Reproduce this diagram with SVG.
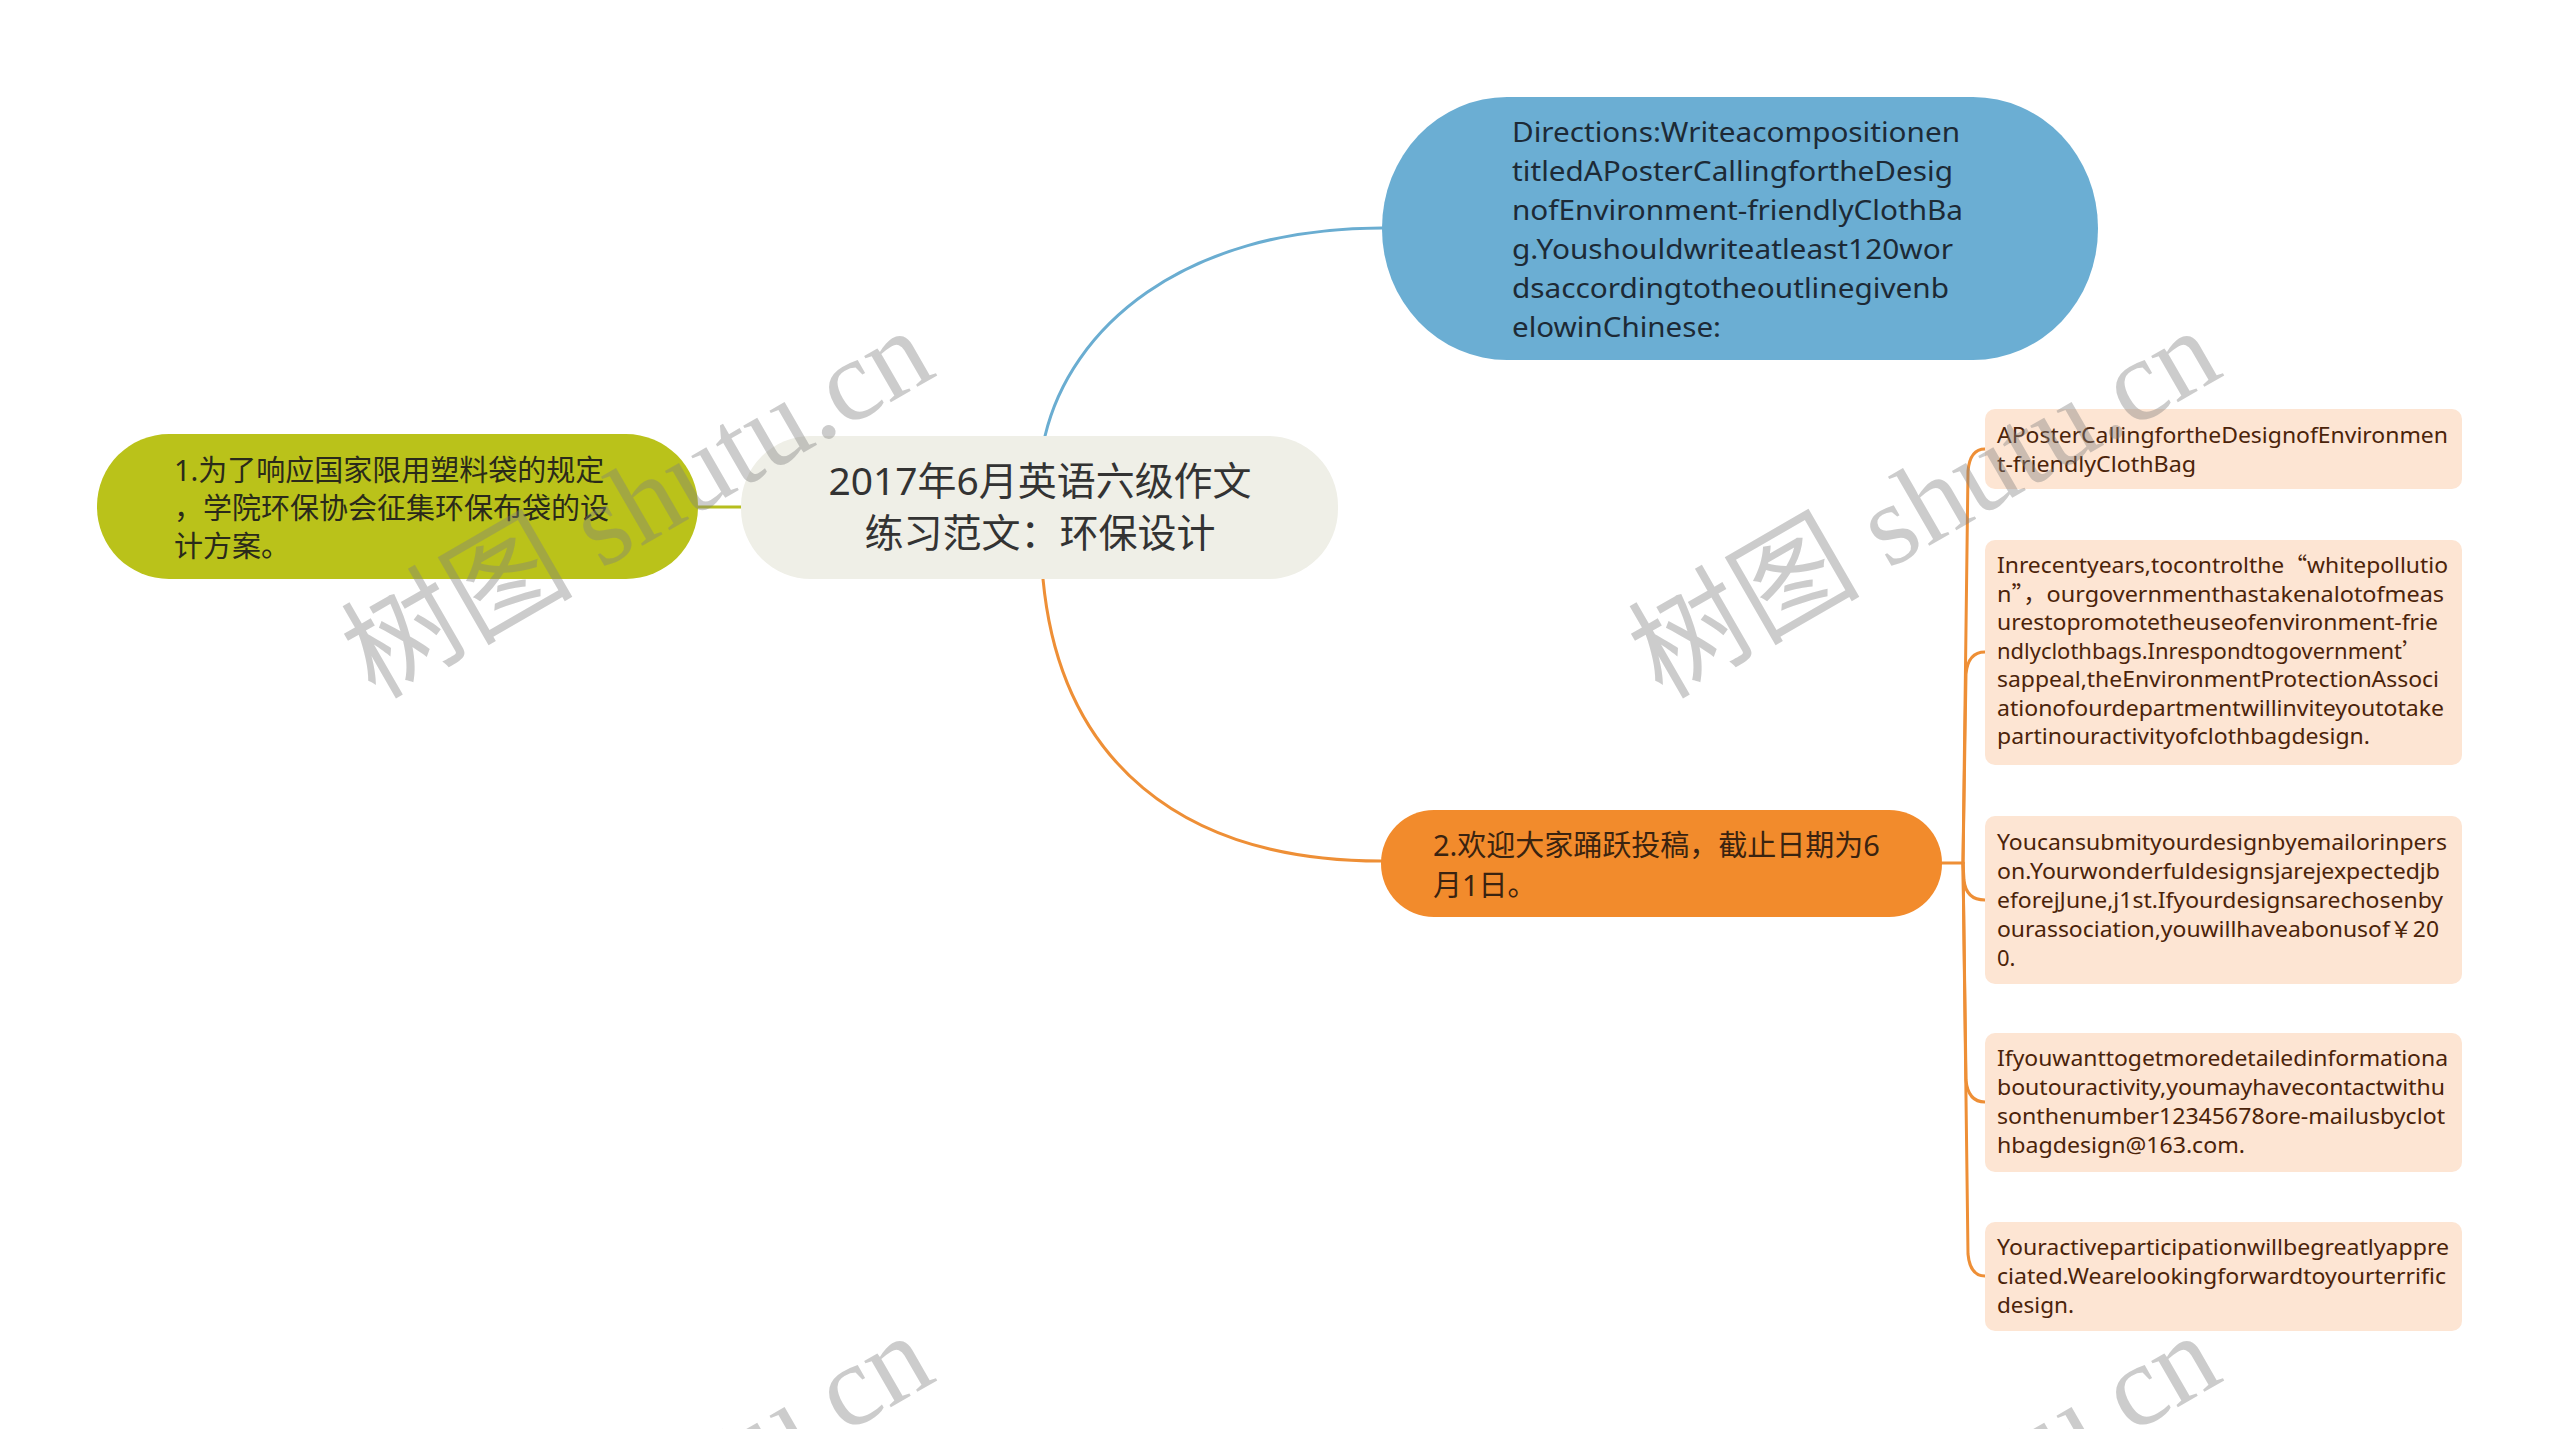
<svg xmlns="http://www.w3.org/2000/svg" width="2560" height="1429" viewBox="0 0 2560 1429">
<style>
.lat{font-family:"Noto Sans","Noto Sans CJK SC",sans-serif}
.cjk{font-family:"Noto Sans","Noto Sans CJK SC",sans-serif}
.fw{font-family:"Noto Sans CJK SC",sans-serif}
.blue-t{font-size:28px;fill:#1d2a36}
.sub-t{font-size:22px;fill:#4b2309}
.sub{fill:#fde5d3}
.wm{font-family:"Liberation Serif","Noto Sans CJK SC",serif;font-size:116px;fill:#808080;fill-opacity:0.4}
.ln{fill:none;stroke-width:3;stroke-linecap:round}
</style>
<rect width="2560" height="1429" fill="#ffffff"/>
<g id="connectors">
<path class="ln" stroke="#6aadd1" d="M1045,436 C1070,330 1180,228 1382,228"/>
<path class="ln" stroke="#ee8f36" d="M1043,579 C1060,760 1180,861 1381,861"/>
<path class="ln" stroke="#b6be1e" d="M698,507 L741,507"/>
<path class="ln" stroke="#ee8f36" d="M1942,863 L1963,863"/>
<path class="ln" stroke="#ee8f36" d="M1963,863 L1968,471 Q1970,449 1985,449"/>
<path class="ln" stroke="#ee8f36" d="M1963,863 L1966,674 Q1968,652 1985,652"/>
<path class="ln" stroke="#ee8f36" d="M1963,863 L1964,880 Q1966,900 1985,900"/>
<path class="ln" stroke="#ee8f36" d="M1963,863 L1966,1080 Q1968,1102 1985,1102"/>
<path class="ln" stroke="#ee8f36" d="M1963,863 L1968,1254 Q1970,1276 1985,1276"/>
</g>
<g id="node-center">
<rect x="741" y="436" width="597" height="143" rx="70" fill="#efefe7"/>
<text class="cjk" font-size="39" fill="#333333" text-anchor="middle"><tspan x="1040" y="495" textLength="423" lengthAdjust="spacingAndGlyphs">2017年6月英语六级作文</tspan><tspan x="1040" y="547">练习范文：环保设计</tspan></text>
</g>
<g id="node-1">
<rect x="97" y="434" width="601" height="145" rx="72" fill="#bac21a"/>
<text class="cjk" font-size="29" fill="#2a2a1a"><tspan x="174" y="481">1.为了响应国家限用塑料袋的规定</tspan><tspan x="174" y="519">，学院环保协会征集环保布袋的设</tspan><tspan x="174" y="557">计方案。</tspan></text>
</g>
<g id="node-directions">
<rect x="1382" y="97" width="716" height="263" rx="125" ry="131" fill="#6baed3"/>
<text class="lat blue-t">
<tspan x="1512" y="142" textLength="448" lengthAdjust="spacingAndGlyphs">Directions:Writeacompositionen</tspan>
<tspan x="1512" y="181" textLength="441" lengthAdjust="spacingAndGlyphs">titledAPosterCallingfortheDesig</tspan>
<tspan x="1512" y="220" textLength="451" lengthAdjust="spacingAndGlyphs">nofEnvironment-friendlyClothBa</tspan>
<tspan x="1512" y="259" textLength="441" lengthAdjust="spacingAndGlyphs">g.Youshouldwriteatleast120wor</tspan>
<tspan x="1512" y="298" textLength="437" lengthAdjust="spacingAndGlyphs">dsaccordingtotheoutlinegivenb</tspan>
<tspan x="1512" y="337" textLength="209" lengthAdjust="spacingAndGlyphs">elowinChinese:</tspan>
</text>
</g>
<g id="node-2">
<rect x="1381" y="810" width="561" height="107" rx="53" fill="#f28b2c"/>
<text class="cjk" font-size="29" fill="#3a2310"><tspan x="1433" y="856">2.欢迎大家踊跃投稿，截止日期为6</tspan><tspan x="1433" y="896">月1日。</tspan></text>
</g>
<g id="node-2-1">
<rect class="sub" x="1985" y="409" width="477" height="80" rx="10"/>
<text class="lat sub-t">
<tspan x="1997" y="443" textLength="451" lengthAdjust="spacingAndGlyphs">APosterCallingfortheDesignofEnvironmen</tspan>
<tspan x="1997" y="472" textLength="199" lengthAdjust="spacingAndGlyphs">t-friendlyClothBag</tspan>
</text>
</g>
<g id="node-2-2">
<rect class="sub" x="1985" y="540" width="477" height="225" rx="10"/>
<text class="lat sub-t">
<tspan x="1997" y="573" textLength="451" lengthAdjust="spacingAndGlyphs">Inrecentyears,tocontrolthe<tspan class="fw">“</tspan>whitepollutio</tspan>
<tspan x="1997" y="602" textLength="447" lengthAdjust="spacingAndGlyphs">n<tspan class="fw">”，</tspan>ourgovernmenthastakenalotofmeas</tspan>
<tspan x="1997" y="630" textLength="441" lengthAdjust="spacingAndGlyphs">urestopromotetheuseofenvironment-frie</tspan>
<tspan x="1997" y="659" textLength="427" lengthAdjust="spacingAndGlyphs">ndlyclothbags.Inrespondtogovernment<tspan class="fw">’</tspan></tspan>
<tspan x="1997" y="687" textLength="442" lengthAdjust="spacingAndGlyphs">sappeal,theEnvironmentProtectionAssoci</tspan>
<tspan x="1997" y="716" textLength="447" lengthAdjust="spacingAndGlyphs">ationofourdepartmentwillinviteyoutotake</tspan>
<tspan x="1997" y="744" textLength="373" lengthAdjust="spacingAndGlyphs">partinouractivityofclothbagdesign.</tspan>
</text>
</g>
<g id="node-2-3">
<rect class="sub" x="1985" y="816" width="477" height="168" rx="10"/>
<text class="lat sub-t">
<tspan x="1997" y="850" textLength="450" lengthAdjust="spacingAndGlyphs">Youcansubmityourdesignbyemailorinpers</tspan>
<tspan x="1997" y="879" textLength="443" lengthAdjust="spacingAndGlyphs">on.Yourwonderfuldesignsjarejexpectedjb</tspan>
<tspan x="1997" y="908" textLength="446" lengthAdjust="spacingAndGlyphs">eforejJune,j1st.Ifyourdesignsarechosenby</tspan>
<tspan x="1997" y="937" textLength="442" lengthAdjust="spacingAndGlyphs">ourassociation,youwillhaveabonusof<tspan class="fw">￥</tspan>20</tspan>
<tspan x="1997" y="966">0.</tspan>
</text>
</g>
<g id="node-2-4">
<rect class="sub" x="1985" y="1033" width="477" height="139" rx="10"/>
<text class="lat sub-t">
<tspan x="1997" y="1066" textLength="451" lengthAdjust="spacingAndGlyphs">Ifyouwanttogetmoredetailedinformationa</tspan>
<tspan x="1997" y="1095" textLength="448" lengthAdjust="spacingAndGlyphs">boutouractivity,youmayhavecontactwithu</tspan>
<tspan x="1997" y="1124" textLength="448" lengthAdjust="spacingAndGlyphs">sonthenumber12345678ore-mailusbyclot</tspan>
<tspan x="1997" y="1153" textLength="248" lengthAdjust="spacingAndGlyphs">hbagdesign@163.com.</tspan>
</text>
</g>
<g id="node-2-5">
<rect class="sub" x="1985" y="1222" width="477" height="109" rx="10"/>
<text class="lat sub-t">
<tspan x="1997" y="1255" textLength="452" lengthAdjust="spacingAndGlyphs">Youractiveparticipationwillbegreatlyappre</tspan>
<tspan x="1997" y="1284" textLength="449" lengthAdjust="spacingAndGlyphs">ciated.Wearelookingforwardtoyourterrific</tspan>
<tspan x="1997" y="1313" textLength="77" lengthAdjust="spacingAndGlyphs">design.</tspan>
</text>
</g>
<g id="watermarks">
<text class="wm" x="375" y="700" transform="rotate(-30 375 700)">树图 shutu.cn</text>
<text class="wm" x="1662" y="700" transform="rotate(-30 1662 700)">树图 shutu.cn</text>
<text class="wm" x="375" y="1705" transform="rotate(-30 375 1705)">树图 shutu.cn</text>
<text class="wm" x="1662" y="1705" transform="rotate(-30 1662 1705)">树图 shutu.cn</text>
</g>
</svg>
